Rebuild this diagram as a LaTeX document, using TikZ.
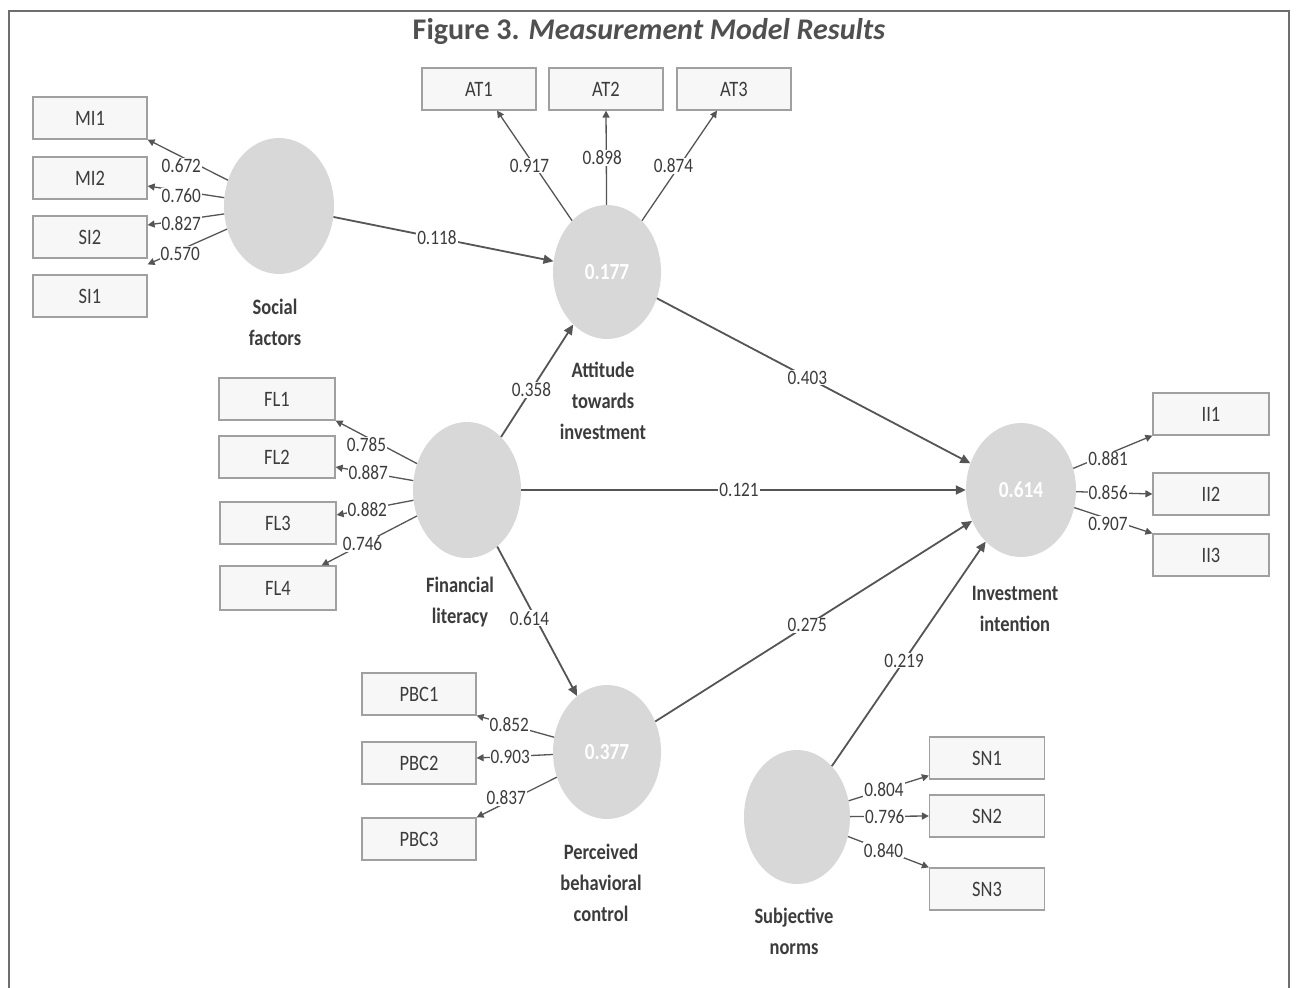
\documentclass[tikz,border=0pt]{standalone}
\usepackage{fontspec}
\setmainfont{Carlito}
\newfontfamily\nar[FakeStretch=0.84]{Carlito}
\usetikzlibrary{arrows.meta,shapes.geometric}
\definecolor{txt}{HTML}{3C3C3C}
\definecolor{ln}{HTML}{555555}
\definecolor{boxc}{HTML}{A0A0A0}
\definecolor{boxf}{HTML}{F7F7F7}
\definecolor{latf}{HTML}{D8D8D8}
\definecolor{frm}{HTML}{6E6E6E}
\begin{document}
\begin{tikzpicture}[x=1pt,y=-1pt,
  ind/.style={draw=boxc, line width=1.2pt, fill=boxf, minimum width=114pt, minimum height=42pt, inner sep=0pt,
    font=\nar\fontsize{22}{22}\selectfont, text=txt},
  lat/.style={ellipse, fill=latf, minimum width=108pt, minimum height=134pt, inner sep=0pt,
    font=\nar\bfseries\fontsize{23}{23}\selectfont, text=white},
  latname/.style={align=center, font=\nar\bfseries\fontsize{22}{31}\selectfont, text=txt},
  lab/.style={fill=white, inner sep=1pt, font=\nar\fontsize{20.5}{20.5}\selectfont, text=txt},
  load/.style={draw=ln, line width=1.3pt, -{Triangle[length=7pt,width=7pt]}},
  pth/.style={draw=ln, line width=1.8pt, -{Triangle[length=10pt,width=9pt]}}]
\useasboundingbox (0,0) rectangle (1297,987);
\fill[white] (0,0) rectangle (1297,987);
\draw[frm, line width=2pt] (9,990) -- (9,11) -- (1289,11) -- (1289,990);
\node[font=\bfseries\fontsize{30}{30}\selectfont, text=txt!90] (title) at (649,32) {Figure 3. \textit{Measurement Model Results}};

% indicators
\node[ind] (MI1) at (90,118) {MI1};
\node[ind] (MI2) at (90,178) {MI2};
\node[ind] (SI2) at (90,237) {SI2};
\node[ind] (SI1) at (90,296) {SI1};
\node[ind] (AT1) at (479,89) {AT1};
\node[ind] (AT2) at (606,89) {AT2};
\node[ind] (AT3) at (734,89) {AT3};
\node[ind, minimum width=116pt] (FL1) at (277,399) {FL1};
\node[ind, minimum width=116pt] (FL2) at (277,457) {FL2};
\node[ind, minimum width=116pt] (FL3) at (278,523) {FL3};
\node[ind, minimum width=116pt, minimum height=44pt] (FL4) at (278,588) {FL4};
\node[ind, minimum width=116pt] (II1) at (1211,414) {II1};
\node[ind, minimum width=116pt] (II2) at (1211,494) {II2};
\node[ind, minimum width=116pt] (II3) at (1211,555) {II3};
\node[ind] (PBC1) at (419,694) {PBC1};
\node[ind] (PBC2) at (419,763) {PBC2};
\node[ind] (PBC3) at (419,839) {PBC3};
\node[ind, minimum width=115pt] (SN1) at (987,758) {SN1};
\node[ind, minimum width=115pt] (SN2) at (987,816) {SN2};
\node[ind, minimum width=115pt] (SN3) at (987,889) {SN3};

% latent variables
\node[lat, minimum width=110pt, minimum height=136pt] (SF) at (279,206) {};
\node[lat] (ATT) at (607,272) {0.177};
\node[lat, minimum height=136pt] (FIN) at (467,490) {};
\node[lat, minimum width=110pt] (II) at (1021,490) {0.614};
\node[lat] (PBC) at (607,752) {0.377};
\node[lat, minimum width=106pt] (SN) at (797,817) {};

\node[latname] (SFn) at (275,322) {Social\\factors};
\node[latname] (ATTn) at (603,401) {Attitude\\towards\\investment};
\node[latname] (FINn) at (460,602) {Financial\\literacy};
\node[latname] (IIn) at (1015,609) {Investment\\intention};
\node[latname] (PBCn) at (601,883) {Perceived\\behavioral\\control};
\node[latname] (SNn) at (794,931) {Subjective\\norms};

% loadings: social factors
\draw[load] (SF) -- node[lab, pos=0.58, yshift=-9pt] {0.672} (MI1.south east);
\draw[load] (SF) -- node[lab, pos=0.56, yshift=-5pt] {0.760} ([yshift=-8pt]MI2.east);
\draw[load] (SF) -- node[lab, pos=0.56, yshift=-3pt] {0.827} ([yshift=12pt]SI2.east);
\draw[load] (SF) -- node[lab, pos=0.59, yshift=-4pt] {0.570} ([yshift=10pt]SI1.north east);

% loadings: attitude
\draw[load] (ATT) -- node[lab, pos=0.5, xshift=-5pt] {0.917} ([xshift=18pt]AT1.south);
\draw[load] (ATT) -- node[lab, pos=0.5, xshift=-4pt] {0.898} (AT2.south);
\draw[load] (ATT) -- node[lab, pos=0.5, xshift=-6pt] {0.874} ([xshift=-17pt]AT3.south);

% loadings: financial literacy
\draw[load] (FIN) -- node[lab, pos=0.62, yshift=-8pt] {0.785} (FL1.south east);
\draw[load] (FIN) -- node[lab, pos=0.58] {0.887} ([yshift=-10pt]FL2.east);
\draw[load] (FIN) -- node[lab, pos=0.6] {0.882} ([yshift=8pt]FL3.east);
\draw[load] (FIN) -- node[lab, pos=0.57] {0.746} ([xshift=-15pt]FL4.north east);

% loadings: investment intention
\draw[load] (II) -- node[lab, pos=0.44, yshift=-5pt] {0.881} (II1.south west);
\draw[load] (II) -- node[lab, pos=0.42] {0.856} (II2.west);
\draw[load] (II) -- node[lab, pos=0.43, yshift=-5pt] {0.907} (II3.north west);

% loadings: PBC
\draw[load] (PBC) -- node[lab, pos=0.58] {0.852} (PBC1.south east);
\draw[load] (PBC) -- node[lab, pos=0.56] {0.903} ([yshift=5pt]PBC2.east);
\draw[load] (PBC) -- node[lab, pos=0.63, yshift=5pt] {0.837} (PBC3.north east);

% loadings: subjective norms
\draw[load] (SN) -- node[lab, pos=0.44] {0.804} ([yshift=4pt]SN1.south west);
\draw[load] (SN) -- node[lab, pos=0.44] {0.796} (SN2.west);
\draw[load] (SN) -- node[lab, pos=0.44] {0.840} (SN3.north west);

% structural paths
\draw[pth] (SF) -- node[lab, pos=0.47] {0.118} (ATT);
\draw[pth] (FIN) -- node[lab, pos=0.42] {0.358} (ATT);
\draw[pth] (ATT) -- node[lab, pos=0.48] {0.403} (II);
\draw[pth] (FIN) -- node[lab, pos=0.49] {0.121} (II);
\draw[pth] (FIN) -- node[lab, pos=0.48, xshift=-6pt] {0.614} (PBC);
\draw[pth] (PBC) -- node[lab, pos=0.48] {0.275} (II);
\draw[pth] (SN) -- node[lab, pos=0.47] {0.219} (II);
\end{tikzpicture}
\end{document}
